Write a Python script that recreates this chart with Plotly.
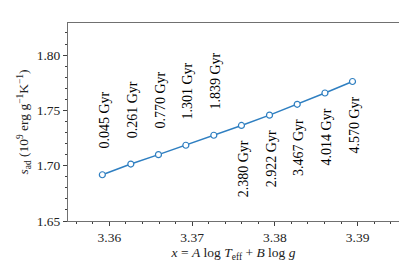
import plotly.graph_objects as go

x_vals = [3.35915, 3.36259, 3.36593, 3.36924, 3.37262, 3.37596, 3.37935, 3.38270, 3.38605, 3.38938]
s_ad = [1.6918, 1.7015, 1.7100, 1.7185, 1.7275, 1.7364, 1.7457, 1.7555, 1.7657, 1.7761]
ages = ["0.045 Gyr", "0.261 Gyr", "0.770 Gyr", "1.301 Gyr", "1.839 Gyr",
        "2.380 Gyr", "2.922 Gyr", "3.467 Gyr", "4.014 Gyr", "4.570 Gyr"]
label_above = [True, True, True, True, True, False, False, False, False, False]

FONT = "Liberation Serif"
fig = go.Figure()
fig.add_trace(go.Scatter(
    x=x_vals, y=s_ad, mode="lines+markers",
    line=dict(color="#2f7fc1", width=1.5),
    marker=dict(symbol="circle", size=6, color="white",
                line=dict(color="#2f7fc1", width=1.2)),
    showlegend=False, cliponaxis=False,
))

for xv, yv, txt, above in zip(x_vals, s_ad, ages, label_above):
    fig.add_annotation(
        x=xv, y=yv, text=txt, showarrow=False, textangle=-90,
        xanchor="center", yanchor="bottom" if above else "top",
        yshift=24 if above else -13, xshift=2,
        font=dict(family=FONT, size=14, color="black"),
    )

axis_common = dict(
    showgrid=False, zeroline=False, showline=True, linecolor="#707070", linewidth=1,
    mirror=True, ticks="outside", ticklen=4, tickcolor="#404040",
    tickfont=dict(family=FONT, size=13.5, color="#222222"),
)
fig.update_xaxes(
    range=[3.355, 3.395], tickvals=[3.36, 3.37, 3.38, 3.39],
    ticktext=["3.36", "3.37", "3.38", "3.39"],
    minor=dict(dtick=0.002, tick0=3.36, ticks="outside", ticklen=2, tickcolor="#404040"),
    title=dict(text="<i>x</i> = <i>A</i> log <i>T</i><sub>eff</sub> + <i>B</i> log <i>g</i>",
               font=dict(family=FONT, size=13.5, color="#222222"), standoff=0),
    **axis_common,
)
fig.update_yaxes(
    range=[1.65, 1.829], tickvals=[1.65, 1.70, 1.75, 1.80],
    ticktext=["1.65", "1.70", "1.75", "1.80"],
    minor=dict(dtick=0.01, tick0=1.65, ticks="outside", ticklen=2, tickcolor="#404040"),
    title=dict(text="<i>s</i><sub>ad</sub> (10<sup>9</sup> erg g<sup>−1</sup>K<sup>−1</sup>)",
               font=dict(family=FONT, size=13.5, color="#222222"), standoff=4),
    **axis_common,
)
fig.update_layout(
    width=407, height=262,
    margin=dict(l=60, r=16, t=15, b=49),
    paper_bgcolor="white", plot_bgcolor="white",
)
fig.write_html("out.html")
